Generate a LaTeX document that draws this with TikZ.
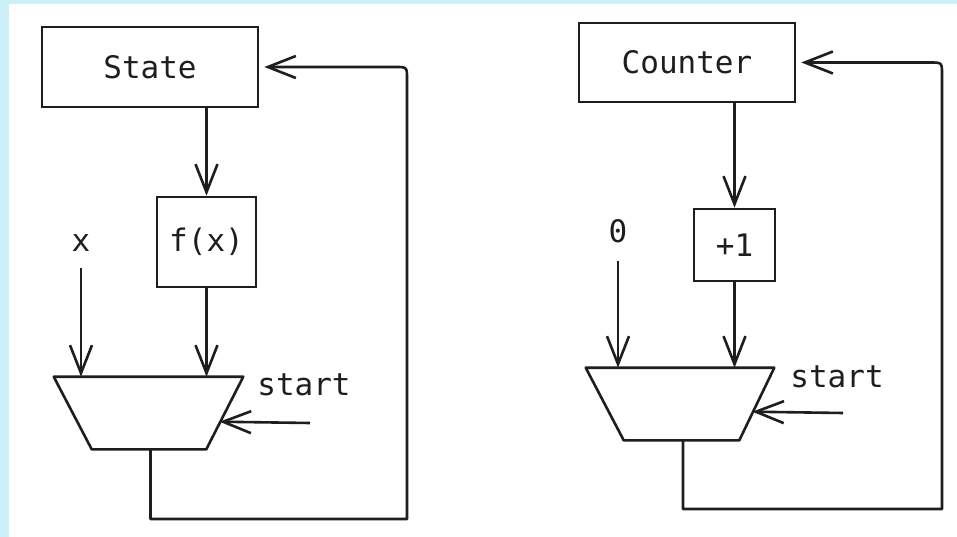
\documentclass[tikz,border=0pt]{standalone}
\usepackage{fontspec}
\setmonofont{DejaVu Sans Mono}
\usetikzlibrary{arrows.meta,calc}
\definecolor{ink}{HTML}{1E1E1E}
\definecolor{frame}{HTML}{CDF0F8}

\begin{document}
\begin{tikzpicture}[x=1pt,y=-1pt,
  color=ink, line width=2.6pt,
  lab/.style={font=\ttfamily\fontsize{31}{36}\selectfont, inner sep=0pt},
  box/.style={lab, draw, rectangle},
  muxframe/.style={rectangle, minimum width=187pt, minimum height=70pt, inner sep=0pt},
  link/.style={-{Straight Barb[length=28pt,width=22pt]}, line join=round},
  feed/.style={link}
]
% background frame
\fill[frame] (0,0) rectangle (957,537);
\fill[white] (9,4) rectangle (957,537);
\useasboundingbox (0,0) rectangle (957,537);

% ---------- state machine with f(x) ----------
\node[box, minimum width=216pt, minimum height=80pt] (state) at (150,67) {State};
\node[box, minimum width=99pt, minimum height=90pt] (fx) at (206.5,242) {f(x)};
\node[muxframe] (muxA) at (148.5,413) {};
\draw[line join=round] (muxA.north west) -- (muxA.north east)
  -- ($(muxA.south east)+(-37,0)$) -- ($(muxA.south west)+(38,0)$) -- cycle;
\node[lab] (xin) at (81,243) {x};
\node[lab] (startA) at (304,385) {start};
\coordinate (selA) at (310,423);
\coordinate (loopA) at (407,519);

\draw[link] (state.south -| fx.north) -- (fx.north);
\draw[link] (fx.south) -- (fx.south |- muxA.north);
\draw[link, shorten <=15pt] (xin.south) -- (xin.south |- muxA.north);
\draw[link] (selA) -- ($(muxA.north east)+(-23.8,45)$);
\draw[feed] ($(muxA.south)+(2,0)$) |- (loopA)
  -- ($(loopA |- state.east)+(0,12)$)
  .. controls (loopA |- state.east) .. ($(loopA |- state.east)+(-12,0)$)
  -- ([xshift=5pt]state.east);

% ---------- counter with +1 ----------
\node[box, minimum width=216pt, minimum height=79pt] (counter) at (687,62.5) {Counter};
\node[box, minimum width=81pt, minimum height=72pt] (plus) at (734.5,245) {+1};
\node[muxframe, minimum width=186pt] (muxB) at (680,404) {};
\draw[line join=round] (muxB.north west) -- (muxB.north east)
  -- ($(muxB.south east)+(-35,0)$) -- ($(muxB.south west)+(38,0)$) -- cycle;
\node[lab] (zero) at (618,231) {0};
\node[lab] (startB) at (837,377) {start};
\coordinate (selB) at (843,413);
\coordinate (loopB) at (942,509);

\draw[link] (counter.south -| plus.north) -- (plus.north);
\draw[link] (plus.south) -- (plus.south |- muxB.north);
\draw[link, shorten <=17pt] (zero.south) -- (zero.south |- muxB.north);
\draw[link] (selB) -- ($(muxB.north east)+(-22,44)$);
\draw[feed] ($(muxB.south)+(3,0)$) |- (loopB)
  -- ($(loopB |- counter.east)+(0,12)$)
  .. controls (loopB |- counter.east) .. ($(loopB |- counter.east)+(-12,0)$)
  -- ([xshift=5pt]counter.east);
\end{tikzpicture}
\end{document}
